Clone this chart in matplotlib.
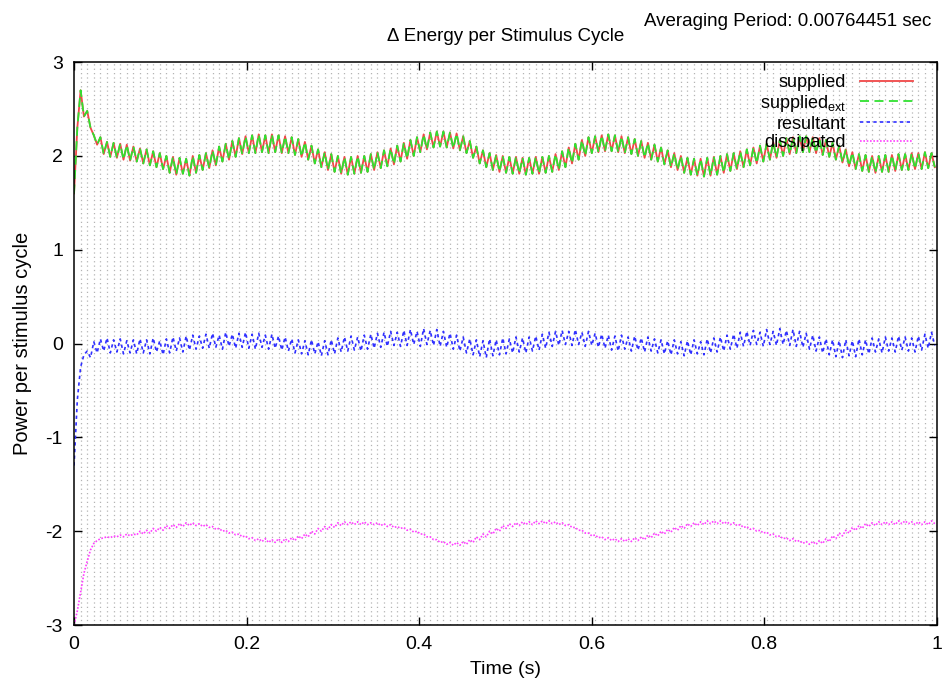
import numpy as np
import matplotlib
matplotlib.use("Agg")
from matplotlib import pyplot as plt

plt.rcParams['font.family'] = ['Liberation Sans', 'DejaVu Sans']
plt.rcParams['mathtext.fontset'] = 'custom'
plt.rcParams['mathtext.rm'] = 'Liberation Sans'
plt.rcParams['axes.unicode_minus'] = False

period = 0.00764451  # stimulus cycle (s), two samples per cycle

supplied = [
    1.60, 2.30, 2.70, 2.42, 2.48, 2.30, 2.22, 2.12, 2.20, 2.02, 2.15, 1.99, 2.14, 1.98, 2.13, 1.96, 2.12, 1.95, 2.10, 1.94,
    2.08, 1.92, 2.07, 1.90, 2.05, 1.88, 2.03, 1.86, 2.00, 1.82, 1.99, 1.80, 1.98, 1.81, 1.97, 1.79, 2.00, 1.82, 2.01, 1.85,
    2.03, 1.87, 2.06, 1.90, 2.10, 1.94, 2.13, 1.96, 2.16, 1.99, 2.19, 2.02, 2.21, 2.03, 2.22, 2.03, 2.23, 2.04, 2.22, 2.03,
    2.23, 2.04, 2.22, 2.03, 2.21, 2.03, 2.20, 2.01, 2.18, 1.99, 2.15, 1.96, 2.11, 1.92, 2.07, 1.88, 2.04, 1.85, 2.02, 1.83,
    2.00, 1.81, 1.99, 1.80, 1.99, 1.81, 2.00, 1.82, 2.00, 1.83, 2.02, 1.85, 2.04, 1.87, 2.06, 1.89, 2.08, 1.91, 2.11, 1.94,
    2.14, 1.97, 2.17, 2.00, 2.20, 2.04, 2.23, 2.07, 2.25, 2.09, 2.26, 2.10, 2.26, 2.09, 2.25, 2.08, 2.24, 2.06, 2.21, 2.03,
    2.16, 1.98, 2.10, 1.92, 2.06, 1.88, 2.03, 1.85, 2.01, 1.83, 2.00, 1.82, 1.99, 1.81, 1.99, 1.81, 1.98, 1.80, 1.98, 1.81,
    1.99, 1.81, 1.99, 1.82, 2.00, 1.83, 2.02, 1.85, 2.05, 1.88, 2.09, 1.92, 2.13, 1.96, 2.17, 2.00, 2.20, 2.03, 2.21, 2.04,
    2.22, 2.05, 2.23, 2.05, 2.22, 2.04, 2.21, 2.03, 2.20, 2.02, 2.18, 2.00, 2.16, 1.98, 2.14, 1.96, 2.12, 1.94, 2.09, 1.91,
    2.06, 1.88, 2.03, 1.85, 2.00, 1.82, 1.98, 1.80, 1.97, 1.79, 1.97, 1.78, 1.98, 1.79, 1.99, 1.80, 2.00, 1.82, 2.02, 1.84,
    2.03, 1.86, 2.05, 1.88, 2.07, 1.90, 2.09, 1.92, 2.11, 1.94, 2.13, 1.96, 2.15, 1.98, 2.17, 2.00, 2.19, 2.02, 2.20, 2.03,
    2.21, 2.04, 2.21, 2.04, 2.20, 2.03, 2.19, 2.01, 2.17, 1.99, 2.14, 1.96, 2.11, 1.93, 2.07, 1.89, 2.04, 1.86, 2.02, 1.84,
    2.01, 1.83, 2.00, 1.82, 2.00, 1.83, 2.01, 1.83, 2.01, 1.84, 2.02, 1.85, 2.02, 1.85, 2.03, 1.86, 2.03, 1.86, 2.04, 1.87,
    2.03, 1.88,
]

# external supply trace coincides with the supplied trace
supplied_ext = list(supplied)

resultant = [
    -1.30, -0.60, -0.25, -0.12, -0.08, -0.15, 0.02, -0.10, 0.05, -0.08, 0.06, -0.10, 0.04, -0.09, 0.05, -0.11, 0.03, -0.10, 0.04, -0.11,
    0.05, -0.10, 0.04, -0.11, 0.06, -0.09, 0.03, -0.12, 0.05, -0.10, 0.07, -0.08, 0.06, -0.09, 0.08, -0.07, 0.09, -0.06, 0.08, -0.05,
    0.10, -0.05, 0.11, -0.04, 0.09, -0.06, 0.12, -0.03, 0.10, -0.05, 0.11, -0.04, 0.12, -0.05, 0.10, -0.06, 0.11, -0.04, 0.09, -0.06,
    0.10, -0.05, 0.08, -0.07, 0.07, -0.08, 0.05, -0.10, 0.04, -0.11, 0.03, -0.12, 0.04, -0.11, 0.02, -0.13, 0.03, -0.12, 0.04, -0.11,
    0.06, -0.09, 0.07, -0.08, 0.08, -0.07, 0.07, -0.08, 0.09, -0.06, 0.10, -0.05, 0.11, -0.04, 0.12, -0.03, 0.13, -0.02, 0.12, -0.03,
    0.14, -0.02, 0.15, -0.01, 0.13, -0.03, 0.16, -0.01, 0.14, -0.02, 0.15, -0.03, 0.13, -0.04, 0.11, -0.06, 0.09, -0.08, 0.07, -0.10,
    0.05, -0.12, 0.04, -0.14, 0.03, -0.15, 0.05, -0.13, 0.04, -0.12, 0.06, -0.11, 0.05, -0.10, 0.07, -0.09, 0.06, -0.10, 0.07, -0.08,
    0.08, -0.07, 0.10, -0.05, 0.12, -0.03, 0.13, -0.02, 0.14, -0.01, 0.13, -0.02, 0.15, -0.01, 0.12, -0.03, 0.13, -0.02, 0.11, -0.04,
    0.10, -0.05, 0.09, -0.07, 0.08, -0.08, 0.09, -0.06, 0.07, -0.08, 0.08, -0.07, 0.06, -0.09, 0.07, -0.08, 0.05, -0.10, 0.04, -0.11,
    0.03, -0.12, 0.04, -0.11, 0.02, -0.13, 0.03, -0.12, 0.04, -0.11, 0.02, -0.12, 0.05, -0.10, 0.06, -0.09, 0.07, -0.08, 0.09, -0.06,
    0.10, -0.05, 0.12, -0.03, 0.13, -0.02, 0.14, -0.01, 0.12, -0.03, 0.15, -0.01, 0.13, -0.02, 0.16, -0.01, 0.14, -0.02, 0.15, -0.03,
    0.13, -0.04, 0.11, -0.06, 0.09, -0.08, 0.07, -0.10, 0.05, -0.12, 0.04, -0.14, 0.03, -0.15, 0.04, -0.13, 0.03, -0.14, 0.05, -0.12,
    0.04, -0.11, 0.06, -0.09, 0.05, -0.10, 0.07, -0.08, 0.06, -0.09, 0.08, -0.07, 0.07, -0.08, 0.06, -0.09, 0.08, -0.07, 0.10, -0.05,
    0.12, -0.02,
]

dissipated = [
    -3.00, -2.85, -2.65, -2.45, -2.32, -2.20, -2.13, -2.10, -2.08, -2.07, -2.06, -2.07, -2.05, -2.06, -2.04, -2.06, -2.03, -2.05, -2.03, -2.04,
    -2.00, -2.03, -1.99, -2.02, -1.97, -2.00, -1.96, -1.99, -1.94, -1.97, -1.93, -1.96, -1.92, -1.95, -1.91, -1.94, -1.91, -1.94, -1.92, -1.95,
    -1.93, -1.96, -1.95, -1.98, -1.97, -2.00, -1.99, -2.02, -2.01, -2.04, -2.03, -2.06, -2.05, -2.08, -2.07, -2.10, -2.08, -2.11, -2.08, -2.12,
    -2.09, -2.12, -2.08, -2.12, -2.08, -2.11, -2.07, -2.10, -2.05, -2.08, -2.03, -2.06, -2.00, -2.03, -1.97, -2.00, -1.95, -1.98, -1.93, -1.96,
    -1.91, -1.94, -1.90, -1.93, -1.90, -1.93, -1.90, -1.93, -1.90, -1.93, -1.91, -1.93, -1.91, -1.94, -1.92, -1.95, -1.93, -1.96, -1.95, -1.97,
    -1.96, -1.99, -1.98, -2.01, -2.00, -2.03, -2.03, -2.06, -2.06, -2.09, -2.09, -2.12, -2.11, -2.14, -2.12, -2.15, -2.12, -2.15, -2.11, -2.14,
    -2.09, -2.12, -2.06, -2.09, -2.03, -2.06, -2.00, -2.03, -1.97, -2.00, -1.94, -1.97, -1.92, -1.95, -1.91, -1.94, -1.90, -1.93, -1.90, -1.93,
    -1.89, -1.92, -1.89, -1.92, -1.89, -1.92, -1.90, -1.93, -1.91, -1.94, -1.93, -1.96, -1.96, -1.99, -1.99, -2.02, -2.02, -2.05, -2.04, -2.07,
    -2.06, -2.09, -2.07, -2.10, -2.08, -2.11, -2.08, -2.11, -2.08, -2.11, -2.07, -2.10, -2.06, -2.09, -2.04, -2.07, -2.02, -2.05, -2.00, -2.03,
    -1.98, -2.01, -1.96, -1.99, -1.94, -1.97, -1.92, -1.95, -1.91, -1.94, -1.90, -1.93, -1.89, -1.92, -1.89, -1.92, -1.89, -1.92, -1.90, -1.93,
    -1.91, -1.94, -1.93, -1.96, -1.95, -1.98, -1.97, -2.00, -1.99, -2.02, -2.01, -2.04, -2.03, -2.06, -2.05, -2.08, -2.07, -2.10, -2.08, -2.11,
    -2.10, -2.13, -2.11, -2.14, -2.11, -2.14, -2.10, -2.13, -2.08, -2.11, -2.05, -2.08, -2.02, -2.05, -1.99, -2.02, -1.96, -1.99, -1.94, -1.97,
    -1.92, -1.95, -1.91, -1.94, -1.90, -1.93, -1.90, -1.93, -1.90, -1.93, -1.89, -1.92, -1.89, -1.92, -1.90, -1.93, -1.90, -1.93, -1.90, -1.93,
    -1.89, -1.92,
]

x_ticks = [0, 0.2, 0.4, 0.6, 0.8, 1]
x_tick_labels = ['0', '0.2', '0.4', '0.6', '0.8', '1']
y_ticks = [-3, -2, -1, 0, 1, 2, 3]

t = np.arange(len(supplied)) * period / 2
cycle_starts = np.arange(1, 131) * period

fig = plt.figure(figsize=(9.43, 6.79), dpi=100)
ax = fig.add_axes([0.0785, 0.0795, 0.915, 0.829])

ax.plot(t, supplied, color='#f04848', lw=1.3, label='supplied')
ax.plot(t, supplied_ext, color='#30e030', lw=1.3, dashes=(5, 3), label=r'supplied$_{\rm ext}$')
ax.plot(t, resultant, color='#3030ff', lw=1.2, dashes=(2, 2), label='resultant')
ax.plot(t, dissipated, color='#ff40ff', lw=1.2, dashes=(1, 1), label='dissipated')

ax.set_xlim(0, 1)
ax.set_ylim(-3, 3)
ax.set_xticks(x_ticks)
ax.set_xticklabels(x_tick_labels)
ax.set_yticks(y_ticks)
ax.set_xticks(cycle_starts, minor=True)
ax.tick_params(which='major', direction='in', length=6, width=1, top=True, right=True,
               labelsize=14, pad=8)
ax.tick_params(which='minor', length=0)
ax.grid(which='minor', axis='x', color='#b4b4b4', lw=0.9, linestyle=(0, (1, 2.5)))
ax.set_axisbelow(True)
for s in ax.spines.values():
    s.set_linewidth(1.1)

ax.set_xlabel('Time (s)', fontsize=14, labelpad=6)
ax.set_ylabel('Power per stimulus cycle', fontsize=14.5, labelpad=10)
ax.set_title('\u0394 Energy per Stimulus Cycle', fontsize=13.5, pad=15)
fig.text(0.988, 0.981, 'Averaging Period: 0.00764451 sec', ha='right', va='top', fontsize=13.5)

leg = ax.legend(loc='upper right', bbox_to_anchor=(0.9826, 0.995), frameon=False,
                markerfirst=False, fontsize=13, handlelength=2.9, labelspacing=0.1,
                borderpad=0.3, borderaxespad=0.2, handletextpad=0.8)
for col in leg._legend_handle_box.get_children():
    col.align = 'right'

fig.savefig('out.png', dpi=100)
